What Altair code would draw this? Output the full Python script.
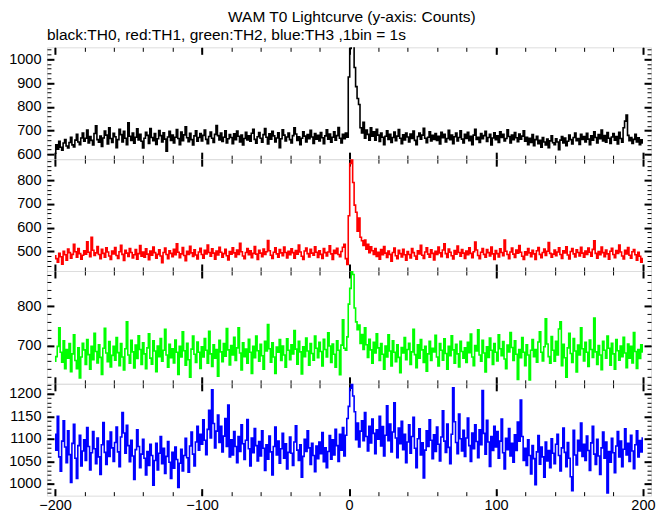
import altair as alt
import pandas as pd

# ---- data: counts per 1 s bin, time from -200 s to +200 s ----
T_START = -200

th0 = [
    605, 640, 622, 655, 630, 618, 648, 662, 635, 627, 650, 672, 640, 631, 660, 684, 652, 641, 669, 690,
    655, 668, 702, 648, 675, 659, 640, 688, 720, 662, 651, 677, 633, 669, 698, 681, 644, 712, 667, 650,
    689, 674, 628, 662, 706, 683, 652, 697, 668, 641, 733, 676, 659, 690, 647, 672, 708, 661, 684, 655,
    627, 668, 693, 680, 646, 709, 671, 658, 688, 642, 666, 700, 679, 652, 691, 664, 613, 673, 697, 659,
    681, 648, 672, 704, 667, 641, 694, 658, 682, 716, 670, 653, 689, 662, 640, 678, 699, 655, 671, 688,
    657, 680, 702, 663, 645, 675, 694, 668, 650, 684, 721, 679, 661, 690, 654, 672, 699, 648, 666, 683,
    671, 645, 687, 662, 698, 676, 652, 681, 640, 667, 693, 661, 678, 655, 689, 706, 663, 647, 674, 692,
    668, 651, 683, 709, 672, 644, 687, 664, 697, 678, 652, 669, 691, 628, 666, 703, 681, 657, 673, 690,
    662, 648, 679, 712, 686, 659, 674, 641, 668, 695, 677, 652, 683, 666, 701, 673, 646, 688, 664, 680,
    657, 692, 670, 645, 678, 703, 664, 686, 651, 672, 695, 660, 679, 713, 668, 648, 684, 666, 690, 672,
    925, 1045, 1060, 1055, 965, 885, 835, 810, 712, 690, 735, 668, 702, 684, 660, 712, 676, 695, 660, 705,
    681, 654, 690, 672, 641, 676, 699, 663, 685, 650, 671, 694, 658, 677, 704, 668, 645, 682, 661, 690,
    673, 652, 686, 667, 698, 659, 641, 675, 690, 664, 681, 710, 668, 649, 672, 695, 657, 680, 663, 688,
    659, 676, 644, 693, 670, 684, 652, 667, 701, 662, 681, 645, 674, 690, 656, 671, 699, 664, 648, 685,
    667, 693, 658, 676, 641, 681, 705, 663, 672, 650, 688, 666, 679, 697, 654, 671, 684, 640, 669, 691,
    662, 678, 650, 695, 671, 684, 657, 667, 703, 675, 648, 681, 662, 692, 670, 653, 686, 664, 677, 699,
    655, 672, 641, 668, 650, 683, 637, 662, 676, 645, 659, 630, 671, 652, 640, 665, 628, 657, 678, 649,
    641, 666, 652, 620, 660, 675, 648, 669, 637, 655, 681, 662, 644, 671, 690, 658, 667, 642, 684, 663,
    675, 652, 689, 664, 641, 678, 660, 695, 671, 648, 683, 666, 702, 657, 679, 651, 692, 668, 646, 673,
    688, 660, 675, 644, 693, 667, 651, 712, 740, 765, 680, 658, 671, 646, 663, 684, 652, 670, 641, 661,
    648,
]

th1 = [
    482, 470, 455, 492, 478, 447, 501, 486, 463, 510, 495, 472, 488, 530, 499, 476, 512, 491, 468, 484,
    503, 489, 541, 497, 478, 560, 505, 483, 494, 521, 487, 470, 509, 492, 476, 515, 498, 481, 466, 502,
    490, 517, 483, 471, 499, 526, 488, 462, 505, 493, 479, 512, 496, 473, 486, 508, 468, 491, 525, 480,
    498, 476, 511, 489, 465, 502, 484, 519, 495, 472, 488, 507, 481, 453, 496, 514, 487, 470, 503, 492,
    478, 509, 486, 532, 497, 474, 490, 516, 483, 461, 501, 488, 522, 494, 479, 507, 485, 469, 498, 513,
    487, 472, 505, 490, 527, 496, 480, 511, 493, 468, 502, 485, 518, 497, 476, 491, 509, 482, 464, 500,
    489, 515, 494, 477, 506, 488, 534, 499, 481, 470, 496, 512, 486, 503, 474, 492, 521, 489, 467, 505,
    493, 478, 510, 487, 499, 546, 503, 484, 471, 497, 515, 490, 476, 508, 494, 482, 519, 496, 473, 501,
    486, 511, 495, 472, 504, 489, 527, 498, 480, 466, 502, 514, 491, 477, 509, 493, 484, 520, 497, 475,
    503, 488, 471, 512, 495, 481, 498, 524, 490, 467, 505, 492, 513, 487, 478, 500, 518, 530, 470, 445,
    650, 870, 885, 790, 695, 665, 585, 640, 560, 545, 525, 548, 510, 530, 495, 520, 503, 488, 512, 479,
    497, 468, 508, 486, 521, 493, 475, 502, 488, 459, 496, 514, 482, 470, 505, 491, 477, 509, 486, 463,
    500, 487, 473, 512, 495, 481, 468, 503, 490, 526, 484, 471, 498, 515, 489, 476, 507, 492, 464, 501,
    488, 519, 494, 478, 506, 532, 491, 475, 510, 497, 482, 469, 504, 489, 523, 496, 480, 508, 493, 471,
    502, 486, 515, 492, 474, 499, 540, 506, 483, 470, 497, 512, 488, 476, 508, 495, 481, 519, 490, 467,
    504, 491, 477, 511, 496, 482, 548, 501, 487, 470, 498, 514, 489, 475, 506, 493, 525, 497, 480, 466,
    499, 485, 512, 494, 478, 505, 490, 467, 503, 517, 488, 474, 496, 510, 483, 501, 538, 492, 476, 489,
    506, 482, 498, 515, 487, 471, 503, 494, 520, 485, 469, 500, 512, 490, 477, 507, 496, 481, 518, 493,
    476, 502, 488, 514, 497, 480, 509, 545, 492, 472, 500, 486, 519, 495, 478, 506, 490, 468, 501, 513,
    487, 474, 504, 492, 527, 498, 481, 469, 505, 490, 516, 484, 472, 499, 508, 486, 463, 497, 480, 455,
    470,
]

th2 = [
    660, 672, 698, 745, 683, 658, 712, 641, 690, 668, 705, 634, 679, 727, 662, 641, 694, 618, 671, 706,
    689, 652, 715, 677, 640, 698, 664, 731, 685, 656, 702, 670, 627, 693, 744, 681, 659, 710, 646, 675,
    698, 663, 720, 682, 649, 705, 671, 638, 692, 760, 676, 655, 713, 684, 643, 701, 667, 725, 690, 652,
    707, 679, 641, 694, 730, 668, 653, 712, 686, 634, 699, 672, 718, 660, 688, 741, 676, 645, 703, 669,
    692, 656, 714, 683, 627, 698, 671, 735, 687, 650, 706, 664, 620, 691, 724, 678, 657, 709, 683, 642,
    697, 671, 718, 688, 655, 736, 679, 647, 702, 668, 690, 622, 713, 684, 659, 705, 673, 743, 689, 651,
    700, 676, 721, 662, 694, 745, 681, 638, 707, 672, 691, 655, 716, 683, 629, 698, 669, 724, 687, 660,
    703, 674, 640, 711, 686, 753, 692, 658, 707, 671, 629, 696, 683, 715, 662, 699, 676, 645, 717, 688,
    664, 702, 679, 738, 691, 653, 711, 684, 628, 697, 672, 719, 686, 650, 705, 680, 663, 724, 693, 669,
    708, 685, 648, 716, 690, 671, 732, 699, 657, 704, 678, 645, 712, 688, 626, 701, 765, 693, 688, 722,
    805, 845, 890, 880, 795, 760, 740, 752, 705, 728, 690, 745, 702, 670, 716, 689, 655, 708, 681, 730,
    694, 662, 705, 678, 640, 699, 671, 727, 686, 648, 712, 683, 659, 702, 670, 631, 695, 681, 720, 664,
    690, 706, 652, 684, 741, 677, 644, 702, 668, 715, 689, 657, 698, 635, 679, 711, 662, 693, 684, 726,
    671, 648, 705, 688, 663, 717, 680, 640, 698, 674, 725, 689, 655, 703, 679, 646, 711, 685, 668, 694,
    657, 708, 682, 729, 671, 649, 700, 686, 740, 676, 660, 713, 681, 633, 697, 670, 719, 688, 652, 705,
    683, 661, 727, 692, 674, 710, 666, 641, 701, 684, 733, 695, 662, 712, 678, 614, 690, 669, 720, 683,
    649, 702, 676, 613, 688, 715, 672, 690, 658, 709, 735, 683, 661, 697, 768, 704, 672, 655, 723, 688,
    660, 711, 676, 742, 760, 649, 703, 669, 620, 694, 731, 680, 657, 718, 686, 633, 701, 676, 745, 692,
    661, 708, 683, 647, 714, 690, 670, 770, 684, 652, 700, 676, 639, 711, 688, 668, 724, 693, 650, 706,
    679, 640, 715, 687, 663, 699, 672, 721, 681, 644, 704, 668, 698, 656, 733, 685, 642, 690, 667, 702,
    684,
]

th3 = [
    1110, 1075, 1150, 1060, 1028, 1095, 1140, 1082, 1047, 1118, 1065, 1003, 1090, 1132, 1057, 1012, 1085, 1108, 1040, 1073,
    1098, 1052, 1125, 1083, 1031, 1069, 1116, 1078, 1045, 1102, 1060, 1021, 1087, 1136, 1070, 1043, 1095, 1061, 1115, 1080,
    1050, 1092, 1126, 1071, 1038, 1104, 1158, 1113, 1068, 1130, 1085, 1049, 1097, 1062, 1010, 1076, 1120, 1083, 1036, 1066,
    1099, 1057, 1020, 1072, 1041, 1088, 1063, 997, 1052, 1090, 1031, 1068, 1105, 1045, 1079, 1023, 1061, 1094, 1048, 1012,
    1070, 1035, 1082, 1054, 992, 1046, 1077, 1029, 1063, 1101, 1058, 1026, 1084, 1115, 1066, 1040, 1093, 1128, 1075, 1110,
    1088, 1142, 1097, 1065, 1121, 1163, 1102, 1209, 1134, 1080, 1117, 1153, 1092, 1128, 1071, 1106, 1145, 1083, 1175, 1060,
    1098, 1064, 1116, 1083, 1047, 1105, 1072, 1131, 1089, 1054, 1097, 1143, 1078, 1040, 1102, 1069, 1123, 1085, 1051, 1094,
    1062, 1118, 1079, 1030, 1087, 1055, 1106, 1071, 1020, 1083, 1126, 1064, 1095, 1046, 1078, 1112, 1057, 1089, 1033, 1070,
    1104, 1068, 1041, 1093, 1129, 1075, 1052, 1087, 1015, 1061, 1099, 1072, 1118, 1080, 1043, 1090, 1063, 1027, 1084, 1056,
    1093, 1067, 1114, 1049, 1080, 1036, 1072, 1107, 1055, 1098, 1064, 1121, 1085, 1050, 1110, 1075, 1125, 1062, 1108, 1145,
    1172, 1212, 1226, 1195, 1160, 1098, 1135, 1082, 1117, 1140, 1096, 1158, 1105, 1073, 1128, 1091, 1144, 1112, 1067, 1120,
    1099, 1150, 1084, 1127, 1062, 1108, 1173, 1096, 1133, 1071, 1115, 1180, 1102, 1058, 1124, 1089, 1139, 1076, 1110, 1047,
    1093, 1131, 1068, 1105, 1148, 1079, 1036, 1100, 1122, 1064, 1091, 1013, 1075, 1118, 1083, 1142, 1097, 1056, 1109, 1072,
    1126, 1088, 1051, 1104, 1162, 1095, 1070, 1133, 1081, 1045, 1110, 1213, 1138, 1092, 1067, 1155, 1100, 1073, 1119, 1061,
    1102, 1146, 1085, 1050, 1113, 1078, 1131, 1094, 1058, 1120, 1087, 1207, 1112, 1066, 1141, 1093, 1039, 1105, 1074, 1128,
    1082, 1116, 1057, 1095, 1144, 1069, 1033, 1101, 1076, 1123, 1062, 1090, 1048, 1109, 1074, 1137, 1095, 1186, 1105, 1052,
    1079, 1041, 1098, 1063, 1022, 1085, 1056, 998, 1071, 1107, 1044, 1082, 1060, 1015, 1093, 1051, 1074, 1036, 1100, 1068,
    1045, 1088, 1110, 1063, 1029, 1080, 1124, 1070, 1038, 1092, 1057, 1016, 985, 1119, 1064, 1042, 1097, 1073, 1135, 1061,
    1088, 1052, 1106, 1074, 1030, 1091, 1128, 1066, 1043, 1099, 1062, 1021, 1080, 1115, 1057, 1093, 980, 1072, 1048, 1101,
    1069, 1025, 1084, 1116, 1060, 1095, 1038, 1077, 1122, 1064, 1090, 1050, 1108, 1073, 1034, 1087, 1118, 1060, 1096, 1071,
    1102,
]

series_names = ["TH0", "TH1", "TH2", "TH3"]
series_values = [th0, th1, th2, th3]
series_colors = ["#000000", "#ff0000", "#00ff00", "#0000ff"]
y_domains = [[580, 1050], [418, 888], [603, 889], [974, 1222]]
y_major = [[600, 700, 800, 900, 1000], [500, 600, 700, 800], [700, 800], [1000, 1050, 1100, 1150, 1200]]
y_minor_step = [20, 20, 20, 10]
x_domain = [-205.5, 205.5]
x_major = [-200, -100, 0, 100, 200]
x_minor = list(range(-200, 201, 20))

TITLE = "WAM T0 Lightcurve (y-axis: Counts)"
SUBTITLE = "black:TH0, red:TH1, green:TH2, blue:TH3 ,1bin = 1s"

FONT = "Liberation Sans"
W = 605
HEIGHTS = [112, 112, 113, 112]
MAJ, MIN = 7, 4


def ax(orient, values, size, width, labels=False, pad=6):
    return alt.Axis(orient=orient, values=values, tickSize=size, offset=-size,
                    tickWidth=width, tickColor="black", domain=False, grid=False,
                    labels=labels, labelFont=FONT, labelFontSize=14.5, format="d",
                    labelColor="black", labelPadding=pad, labelFlush=False,
                    labelOverlap=False, title=None)


def panel(i):
    vals = series_values[i]
    df = pd.DataFrame({"t": list(range(T_START, T_START + len(vals))), "c": vals})
    lo, hi = y_domains[i]
    ymin = list(range(lo - lo % y_minor_step[i] + y_minor_step[i], hi + 1, y_minor_step[i]))
    xs = alt.Scale(domain=x_domain, nice=False, zero=False)
    ys = alt.Scale(domain=y_domains[i], nice=False, zero=False)
    last = i == len(series_values) - 1

    main = alt.Chart(df).mark_line(interpolate="step", color=series_colors[i],
                                   strokeWidth=1.6, clip=True).encode(
        x=alt.X("t:Q", scale=xs, axis=ax("bottom", x_major, MAJ, 2, labels=last, pad=3)),
        y=alt.Y("c:Q", scale=ys, axis=ax("left", y_major[i], MAJ, 2, labels=True)),
    )
    ghost = alt.Chart(df.head(2)).mark_line(strokeOpacity=0, clip=True)
    g1 = ghost.encode(
        x=alt.X("t:Q", scale=xs, axis=ax("bottom", x_minor, MIN, 1)),
        y=alt.Y("c:Q", scale=ys, axis=ax("left", ymin, MIN, 1)),
    )
    g2 = ghost.encode(
        x=alt.X("t:Q", scale=xs, axis=ax("top", x_major, MAJ, 2)),
        y=alt.Y("c:Q", scale=ys, axis=ax("right", y_major[i], MAJ, 2)),
    )
    g3 = ghost.encode(
        x=alt.X("t:Q", scale=xs, axis=ax("top", x_minor, MIN, 1)),
        y=alt.Y("c:Q", scale=ys, axis=ax("right", ymin, MIN, 1)),
    )
    props = dict(width=W, height=HEIGHTS[i])
    if i == 0:
        props["title"] = alt.TitleParams(SUBTITLE, anchor="start", frame="group", font=FONT,
                                         fontSize=15.5, fontWeight="normal", color="black", offset=3)
    return alt.layer(main, g1, g2, g3).resolve_axis(x="independent", y="independent").properties(**props)


chart = alt.vconcat(*[panel(i) for i in range(4)], spacing=0, bounds="flush").properties(
    title=alt.TitleParams(TITLE, anchor="middle", font=FONT, fontSize=15.5, fontWeight="normal",
                          color="black", offset=2, dx=20),
    padding={"left": 0, "top": 1, "right": 5, "bottom": 2},
).configure_view(stroke="black", strokeWidth=1).configure(background="white")

chart.save("out.html", embed_options={"renderer": "svg", "actions": False})
